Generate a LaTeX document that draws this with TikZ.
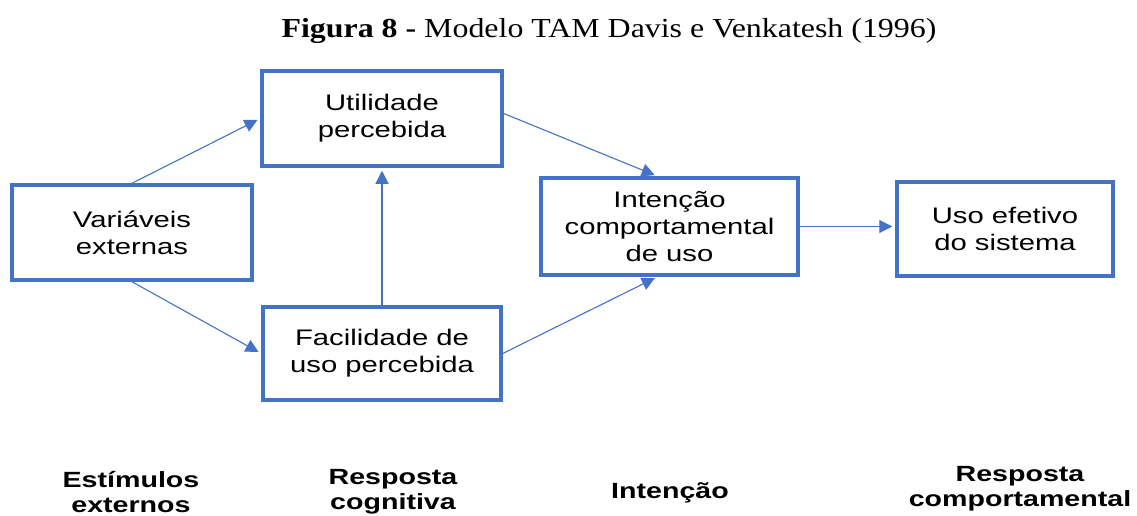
\documentclass[tikz,border=0pt]{standalone}
\usepackage{fontspec}
\setmainfont{Liberation Serif}
\newfontfamily\boxfont{Liberation Sans}[FakeStretch=1.3]
\newfontfamily\titlefont{Liberation Serif}[FakeStretch=1.16]
\usetikzlibrary{arrows.meta}
\definecolor{tamblue}{HTML}{4472C4}
\tikzset{
  box/.style={draw=tamblue, line width=3.5pt, inner sep=0pt, align=center,
    font=\boxfont\fontsize{22.5}{27}\selectfont},
  conn/.style={draw=tamblue, line width=1.1pt, -{Triangle[length=13pt,width=13pt]}, shorten >=3pt},
  lab/.style={align=center, inner sep=0pt, font=\boxfont\bfseries\fontsize{22}{25}\selectfont},
}
\begin{document}
\begin{tikzpicture}[x=1pt,y=-1pt]
\useasboundingbox (0,0) rectangle (1137,515);
\node[font=\titlefont\fontsize{27.5}{32}\selectfont, inner sep=0pt, anchor=base] (title) at (609,37) {\textbf{Figura 8 -} Modelo TAM Davis e Venkatesh (1996)};
\node[box, minimum width=240pt, minimum height=95pt] (util) at (382,118.5) {Utilidade\\percebida};
\node[box, minimum width=240pt, minimum height=95pt] (var) at (132,232.5) {Variáveis\\externas};
\node[box, minimum width=238pt, minimum height=93pt] (fac) at (382,353.5) {Facilidade de\\uso percebida};
\node[box, minimum width=257pt, minimum height=97pt] (int) at (669.5,226.5) {Intenção\\comportamental\\de uso};
\node[box, minimum width=216pt, minimum height=94pt] (uso) at (1005,229) {Uso efetivo\\do sistema};
\draw[conn] (var.north) -- (util.west);
\draw[conn] (var.south) -- (fac.west);
\draw[conn] (fac.north) -- (util.south);
\draw[conn] ([yshift=5pt]util.east) -- ([xshift=-12pt]int.north);
\draw[conn] (fac.east) -- ([xshift=-12pt]int.south);
\draw[conn] (int.east) -- (int.east -| uso.west);
\node[lab] (est) at (131,492) {Estímulos\\externos};
\node[lab] (cog) at (393,492) {Resposta\\cognitiva};
\node[lab] (inten) at (670,493) {Intenção};
\node[lab] (comp) at (1020,489) {Resposta\\comportamental};
\end{tikzpicture}
\end{document}
